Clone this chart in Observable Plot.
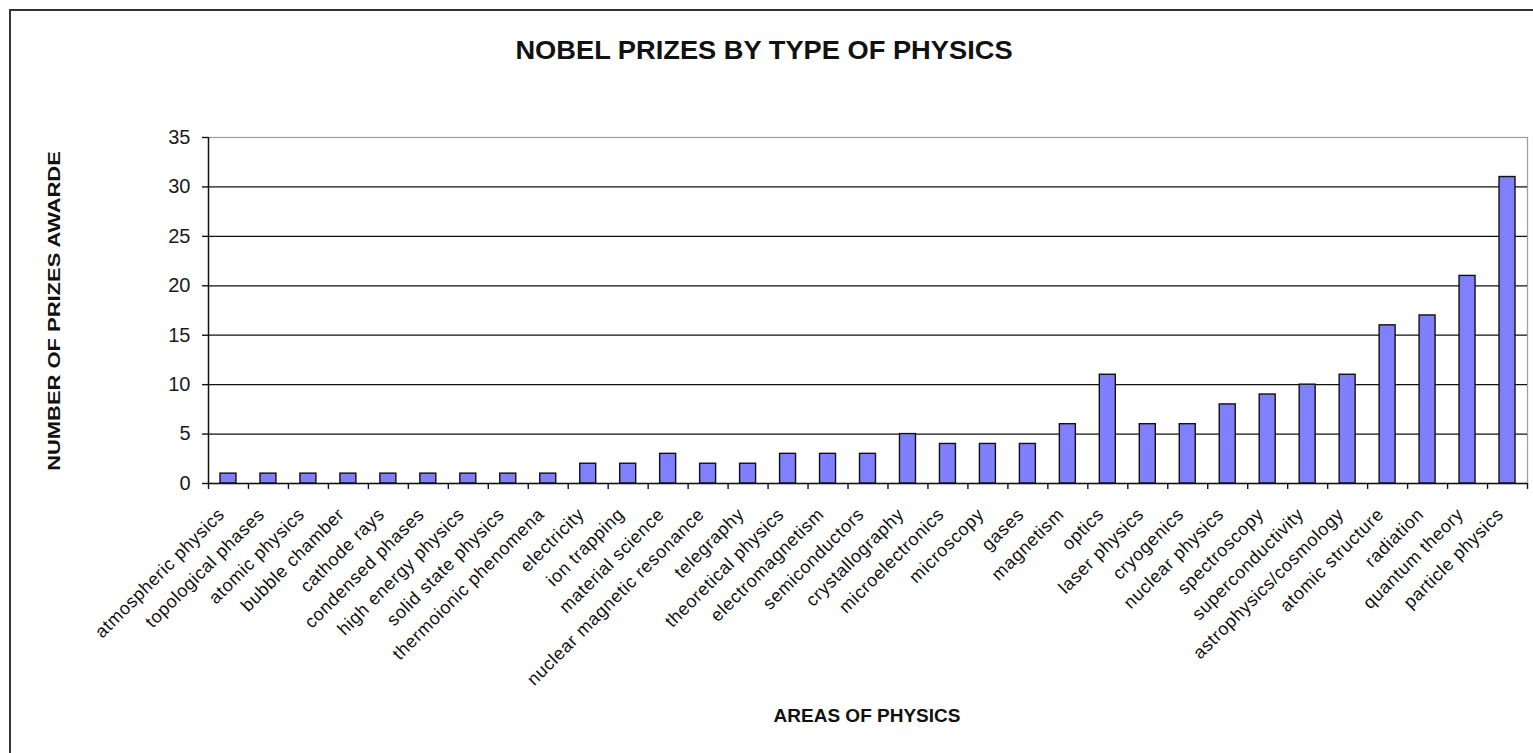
<!DOCTYPE html>
<html>
<head>
<meta charset="utf-8">
<script src="https://cdn.jsdelivr.net/npm/d3@7"></script>
<script src="https://cdn.jsdelivr.net/npm/@observablehq/plot@0.6"></script>
<style>
  html, body { margin: 0; padding: 0; background: #fff; overflow: hidden; }
  #wrap { position: relative; width: 1533px; height: 753px; font-family: "Liberation Sans", Arial, sans-serif; }
  #chart { position: absolute; left: 0; top: 0; }
  #border { position: absolute; left: 9px; top: 9px; width: 1540px; height: 770px; border: 2px solid #333; box-sizing: border-box; pointer-events: none; }
  .lbl { position: absolute; font-weight: bold; color: #111; white-space: nowrap; }
  #title { left: 764px; top: 50px; font-size: 25px; transform: translate(-50%, -50%) scaleX(1.09); }
  #ytitle { left: 55px; top: 311px; font-size: 17px; transform: translate(-50%, -50%) rotate(-90deg) scaleX(1.29); }
  #xtitle { left: 867px; top: 716px; font-size: 19px; transform: translate(-50%, -50%); }
</style>
</head>
<body>
<div id="wrap">
  <div id="chart"></div>
  <div id="border"></div>
  <div class="lbl" id="title">NOBEL PRIZES BY TYPE OF PHYSICS</div>
  <div class="lbl" id="ytitle">NUMBER OF PRIZES AWARDE</div>
  <div class="lbl" id="xtitle">AREAS OF PHYSICS</div>
</div>
<script>
const categories = [
  "atmospheric physics", "topological phases", "atomic physics", "bubble chamber",
  "cathode rays", "condensed phases", "high energy physics", "solid state physics",
  "thermoionic phenomena", "electricity", "ion trapping", "material science",
  "nuclear magnetic resonance", "telegraphy", "theoretical physics", "electromagnetism",
  "semiconductors", "crystallography", "microelectronics", "microscopy", "gases",
  "magnetism", "optics", "laser physics", "cryogenics", "nuclear physics",
  "spectroscopy", "superconductivity", "astrophysics/cosmology", "atomic structure",
  "radiation", "quantum theory", "particle physics"
];
const prizes = [
  1, 1, 1, 1,
  1, 1, 1, 1,
  1, 2, 2, 3,
  2, 2, 3, 3,
  3, 5, 4, 4, 4,
  6, 11, 6, 6, 8,
  9, 10, 11, 16,
  17, 21, 31
];
const yTicks = [0, 5, 10, 15, 20, 25, 30, 35];
const gridValues = [5, 10, 15, 20, 25, 30];

const data = categories.map((c, i) => ({category: c, value: prizes[i]}));

const W = 1533, H = 753;
const mL = 208, mR = 6, mT = 137, mB = 270;
const step = (W - mL - mR) / categories.length;

const chart = Plot.plot({
  width: W,
  height: H,
  marginLeft: mL,
  marginRight: mR,
  marginTop: mT,
  marginBottom: mB,
  style: {fontFamily: "'Liberation Sans', Arial, sans-serif", background: "transparent", overflow: "visible"},
  x: {type: "band", domain: categories, paddingInner: 0.6, paddingOuter: 0.3},
  y: {domain: [0, 35]},
  marks: [
    Plot.frame({stroke: "#a0a0a0", strokeWidth: 1.3}),
    Plot.ruleY(gridValues, {stroke: "#111", strokeWidth: 1.3}),
    Plot.barY(data, {x: "category", y: "value", fill: "#8080ff", stroke: "#111", strokeWidth: 1.4}),
    Plot.ruleY([0], {stroke: "#111", strokeWidth: 1.4}),
    Plot.ruleX(categories, {x: d => d, dx: step / 2, y1: 0, y2: -0.6, stroke: "#111", strokeWidth: 1.4}),
    Plot.axisY({ticks: yTicks, tickSize: 6, tickPadding: 12, fontSize: 20, color: "#1a1a1a", stroke: "#111", strokeWidth: 1.4, label: null}),
    Plot.ruleX([categories[0]], {x: d => d, dx: -step / 2, y1: -0.6, y2: 35, stroke: "#111", strokeWidth: 1.4}),
    Plot.axisX({tickSize: 0, tickPadding: 28, tickRotate: -45, dx: -7, fontSize: 18, color: "#111", label: null})
  ]
});
document.getElementById("chart").appendChild(chart);
d3.select(chart).selectAll("g[aria-label='x-axis tick label'] text").style("letter-spacing", "0.6px");
</script>
</body>
</html>
